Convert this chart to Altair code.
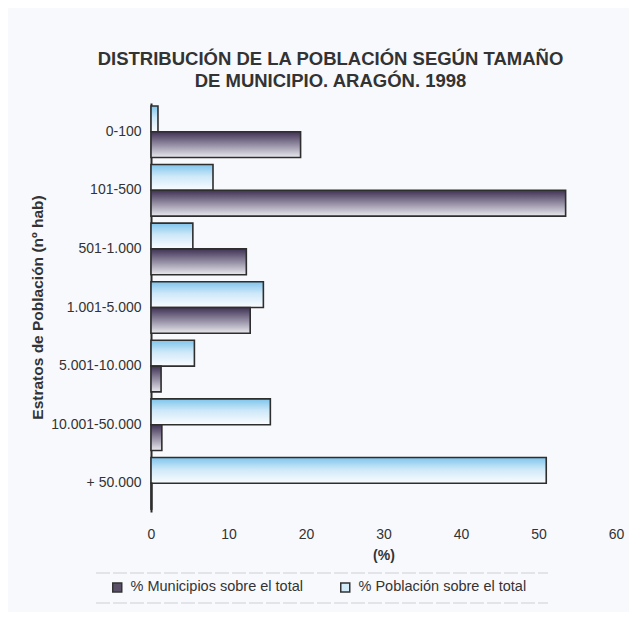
import altair as alt
import pandas as pd

# ---- data ----
estratos = ["0-100", "101-500", "501-1.000", "1.001-5.000", "5.001-10.000", "10.001-50.000", "+ 50.000"]
pct_municipios = [19.3, 53.5, 12.3, 12.8, 1.3, 1.4, 0.1]
pct_poblacion = [0.9, 8.0, 5.4, 14.5, 5.6, 15.4, 51.0]
series = ["% Municipios sobre el total", "% Población sobre el total"]
x_ticks = [0, 10, 20, 30, 40, 50, 60]

rows = []
for e, m, p in zip(estratos, pct_municipios, pct_poblacion):
    rows.append({"estrato": e, "serie": series[0], "valor": m})
    rows.append({"estrato": e, "serie": series[1], "valor": p})
df = pd.DataFrame(rows)

FONT = "Liberation Sans"
TXT = "#333333"

grad_pob = alt.LinearGradient(
    gradient="linear", x1=0, x2=0, y1=0, y2=1,
    stops=[alt.GradientStop(offset=0, color="#7fc4ec"),
           alt.GradientStop(offset=0.45, color="#cde8f8"),
           alt.GradientStop(offset=1, color="#fbfdff")])
grad_mun = alt.LinearGradient(
    gradient="linear", x1=0, x2=0, y1=0, y2=1,
    stops=[alt.GradientStop(offset=0, color="#3f3153"),
           alt.GradientStop(offset=0.5, color="#938ca2"),
           alt.GradientStop(offset=1, color="#e9e9ee")])

y_enc = alt.Y("estrato:N", sort=estratos,
              scale=alt.Scale(paddingInner=0.12, paddingOuter=0.05),
              axis=alt.Axis(title="Estratos de Población (nº hab)", labelFont=FONT,
                            labelFontSize=14, labelColor=TXT, labelPadding=10,
                            ticks=False, domain=True, domainColor="#2a2a2a",
                            domainWidth=2, titleFont=FONT, titleFontSize=15.5,
                            titleFontWeight="bold", titleColor=TXT, titleAngle=270,
                            titleX=-114, titleY=204, titleAlign="center",
                            titleBaseline="middle", grid=False))
x_enc = alt.X("valor:Q", scale=alt.Scale(domain=[0, 60], nice=False, zero=True),
              axis=alt.Axis(values=x_ticks, title="(%)", labelFont=FONT,
                            labelFontSize=14, labelColor=TXT, labelPadding=15,
                            labelFlush=False, tickSize=0, ticks=False, domain=False,
                            grid=False, titleFont=FONT, titleFontSize=14,
                            titleFontWeight="bold", titleColor=TXT, titlePadding=7))
yoff = alt.YOffset("serie:N", sort=[series[1], series[0]],
                   scale=alt.Scale(domain=[series[1], series[0]], paddingInner=0,
                                   paddingOuter=0))

base = alt.Chart(df)

bars_pob = base.transform_filter(alt.datum.serie == series[1]).mark_bar(
    fill=grad_pob, stroke="#2e2e2e", strokeWidth=1.6, cornerRadius=0
).encode(x=x_enc, y=y_enc, yOffset=yoff)

bars_mun = base.transform_filter(alt.datum.serie == series[0]).mark_bar(
    fill=grad_mun, stroke="#2e2e2e", strokeWidth=1.6, cornerRadius=0
).encode(x=x_enc, y=y_enc, yOffset=yoff)

legend_layer = base.mark_square(opacity=0, size=0).encode(
    x=x_enc, y=y_enc,
    color=alt.Color("serie:N", sort=series,
                    scale=alt.Scale(domain=series, range=["#5a5068", "#d4ecfa"]),
                    legend=alt.Legend(title=None, orient="none", direction="horizontal",
                                      legendX=-41, legendY=477, symbolType="square",
                                      symbolSize=81, symbolOpacity=1,
                                      symbolStrokeColor="#333333", symbolStrokeWidth=1.5,
                                      labelFont=FONT, labelFontSize=14.5, labelColor=TXT,
                                      labelOffset=6, columnPadding=34, labelLimit=0,
                                      padding=0))
)

# faint separator lines around the legend
sep = alt.Chart(pd.DataFrame({"yy": [470]})).mark_rule(
    color="#cfcfd4", strokeWidth=1, strokeDash=[14, 3]
).encode(x=alt.value(-55), x2=alt.value(397), y=alt.value(470))
sep2 = alt.Chart(pd.DataFrame({"yy": [500]})).mark_rule(
    color="#cfcfd4", strokeWidth=1, strokeDash=[14, 3]
).encode(x=alt.value(-55), x2=alt.value(397), y=alt.value(500))

chart = alt.layer(bars_pob, bars_mun, legend_layer, sep, sep2).properties(
    width=465, height=409,
    autosize=alt.AutoSizeParams(type="none"),
    padding={"left": 143, "top": 95, "right": 13, "bottom": 100},
    background="#f8f9fd",
    title=alt.TitleParams(
        text=["DISTRIBUCIÓN DE LA POBLACIÓN SEGÚN TAMAÑO", "DE MUNICIPIO. ARAGÓN. 1998"],
        font=FONT, fontSize=18.5, fontWeight="bold", color=TXT, anchor="middle",
        dx=-53, lineHeight=22, offset=13)
).configure_view(stroke=None)

chart.save("out.html", embed_options={"renderer": "svg", "actions": False})
